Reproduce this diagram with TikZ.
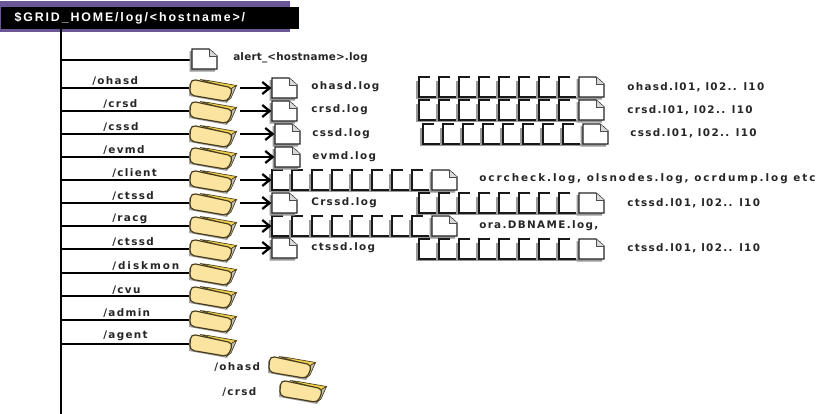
\documentclass[tikz,border=0pt]{standalone}
\usepackage{fontspec}
\usetikzlibrary{arrows.meta}
\setmainfont{Liberation Sans}
\newfontfamily\lblfont{DejaVu Sans}[LetterSpace=13]
\newfontfamily\lblwide{DejaVu Sans}[LetterSpace=19]
\newfontfamily\lblnarrow{DejaVu Sans}[LetterSpace=2]
\newfontfamily\hdrfont{Liberation Sans}[LetterSpace=15]
\definecolor{hdrpurple}{HTML}{6B5796}
\definecolor{folderfill}{HTML}{FBE3A0}
\definecolor{foldertab}{HTML}{F2D24E}
\definecolor{folderedge}{HTML}{4A3F1C}
\tikzset{
  x=0.75pt,y=-0.75pt,
  lbl/.style={anchor=west,inner sep=0pt,font=\lblfont\bfseries\fontsize{7.8}{9}\selectfont,text=black!85},
  anchorbox/.style={inner sep=0pt,minimum width=18pt,minimum height=15pt},
  branch/.style={line width=1.5pt,black},
  flow/.style={line width=1.7pt,black,-{Straight Barb[length=5.5pt,width=9pt]}},
  pics/docicon/.style={code={
    \fill[black!40] (-15.5,-8) -- (8,-8) -- (12,-1) -- (10,12.5) -- (-15.5,12.5) -- cycle;
    \draw[fill=white,draw=black!85,line width=0.9pt] (-13,-10) -- (4,-10) -- (12,-3) -- (12,10) -- (-13,10) -- cycle;
    \fill[black!15] (4,-10) -- (4,-3) -- (12,-3) -- cycle;
    \draw[line width=0.5pt,draw=black!70] (4,-10) -- (4,-3) -- (12,-3);
  }},
  pics/rowunit/.style={code={
    \fill[black!40] (-16.5,-6) rectangle (-13,12);
    \fill[black!40] (-16.5,10) rectangle (7,12);
    \draw[draw=black!90,line width=1.1pt] (-2,-10) -- (-13,-10) -- (-13,10) -- (4,10);
  }},
  pics/foldericon/.style={code={
    \fill[black!35] (-25,-6) -- (-25,6) -- (13,13) -- (19,2) -- cycle;
    \fill[foldertab,draw=folderedge,line width=0.5pt] (-14,-10.5) -- (-6,-9.5) -- (22.5,-4.5) -- (18,-1) -- cycle;
    \fill[black!25!white,draw=folderedge,line width=0.5pt] (18,-2) -- (22.5,-4.5) -- (17,8) -- (13,11) -- cycle;
    \fill[folderfill,draw=folderedge,line width=0.9pt,rounded corners=3.5pt] (-23,-11) -- (19,-2) -- (14,11.5) -- (-24.5,5) -- cycle;
  }},
}
\newcommand{\docrow}[3]{%
  \foreach \k in {1,...,#3}{%
    \ifnum\k<#3\relax
      \pic at ({#1+20*(\k-1)},#2) {rowunit};
    \else
      \pic at ({#1+20*(\k-1)},#2) {docicon};
    \fi
  }}
\begin{document}
\begin{tikzpicture}
\useasboundingbox (0,0) rectangle (826,414);
\fill[white] (0,0) rectangle (826,414);
% header
\fill[hdrpurple] (0,1) rectangle (290,32);
\node[fill=black,text=white,anchor=north west,inner sep=0pt,minimum width=223.5pt,minimum height=16pt,text width=223.5pt,align=left,font=\hdrfont\bfseries\fontsize{9.3}{10}\selectfont] (hdr) at (1,7) {\hspace*{10pt}\$GRID\_HOME/log/<hostname>/};
\coordinate (top) at (61,28);
\coordinate (bottom) at (61,414);
\draw[line width=2pt] (top) -- (bottom);
% branch points and targets
\foreach \n/\yy/\fy in {ohasd/88/90,crsd/111/112,cssd/134/136,evmd/157/158,client/180/181,ctssda/203/204,racg/226/227,ctssdb/249/250,diskmon/273/274,cvu/296/297,admin/320/321,agent/344/345}{
  \coordinate (t\n) at (61,\yy);
  \node[anchorbox] (f\n) at (214,\fy) {};
  \draw[branch] (t\n) -- (f\n.west |- t\n);
  \pic at (f\n) {foldericon};
}
\coordinate (talert) at (61,60);
\node[anchorbox] (docalert) at (205,59) {};
\draw[branch] (talert) -- (docalert.west |- talert);
\pic at (docalert) {docicon};
\node[anchorbox] (fx) at (293,367) {};
\pic at (fx) {foldericon};
\node[anchorbox] (fy) at (304,391) {};
\pic at (fy) {foldericon};
% labels
\foreach \t/\xx/\yy in {{/ohasd}/92/81,{/crsd}/103/104,{/cssd}/103/127,{/evmd}/103/150,{/client}/112/173,{/ctssd}/112/196,{/racg}/112/219,{/ctssd}/112/242,{\lblwide/diskmon}/112/266,{/cvu}/112/290,{/admin}/103/313,{/agent}/103/336,{/ohasd}/214/367,{/crsd}/222/392}{
  \node[lbl] at (\xx,\yy) {\t};
}
% rows
\docrow{432}{87}{9}
\docrow{432}{110}{9}
\docrow{436}{134}{9}
\docrow{285}{180}{9}
\docrow{432}{203}{9}
\docrow{285}{226}{9}
\docrow{432}{249}{9}
% single docs and arrows
\foreach \n/\yy/\dx in {ohasd/88/285,crsd/111/285,cssd/134/288,evmd/157/288,ctssda/203/285,ctssdb/248/285}{
  \node[anchorbox] (d\n) at (\dx,\yy) {};
  \pic at (d\n) {docicon};
  \draw[flow] (f\n.east |- d\n) ++(14,0) -- ([xshift=-1pt]d\n.west);
}
\node[anchorbox] (rclient) at (285,180) {};
\node[anchorbox] (rracg) at (285,226) {};
\draw[flow] (fclient.east |- rclient) ++(14,0) -- ([xshift=-1pt]rclient.west);
\draw[flow] (fracg.east |- rracg) ++(14,0) -- ([xshift=-1pt]rracg.west);
% texts
\foreach \t/\xx/\yy in {
 {\lblnarrow alert\_<hostname>.log}/233/58,
 ohasd.log/311/87,crsd.log/311/110,cssd.log/312/134,evmd.log/312/157,Crssd.log/311/203,ctssd.log/311/248,
 {ohasd.l01, l02.. l10}/627/87,{crsd.l01, l02.. l10}/627/110,{cssd.l01, l02.. l10}/630/133,
 {\lblwide ocrcheck.log, olsnodes.log, ocrdump.log etc}/479/179,{ctssd.l01, l02.. l10}/627/203,{ora.DBNAME.log,}/479/226,{ctssd.l01, l02.. l10}/627/248}{
  \node[lbl] at (\xx,\yy) {\t};
}
\end{tikzpicture}
\end{document}
